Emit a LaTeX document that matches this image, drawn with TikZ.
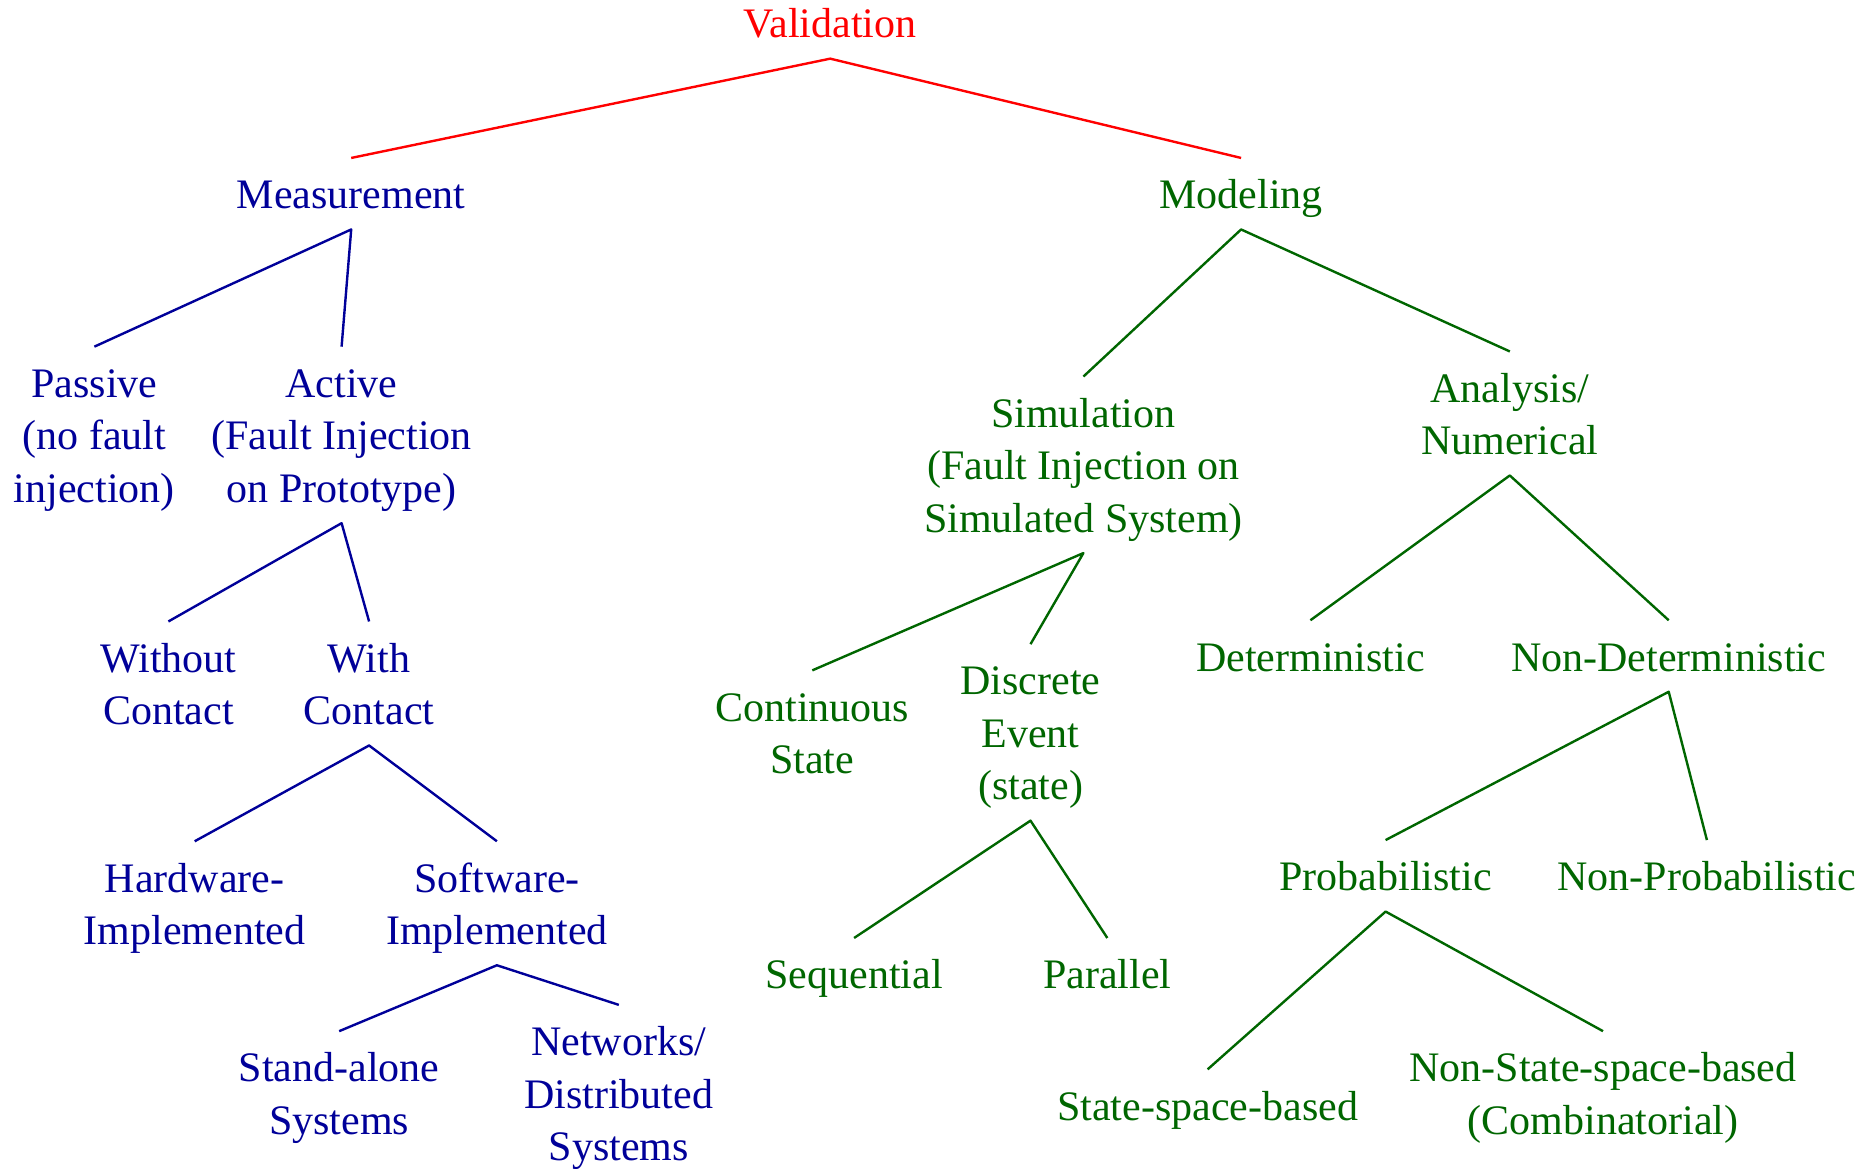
\documentclass[tikz,border=0pt]{standalone}
\usepackage{fontspec}
\setmainfont{Liberation Serif}
\definecolor{valred}{RGB}{255,0,0}
\definecolor{measblue}{RGB}{0,0,153}
\definecolor{modgreen}{RGB}{0,102,0}
\begin{document}
\begin{tikzpicture}[x=1pt,y=-1pt,
  lbl/.style={anchor=north, yshift=22.75pt, inner sep=0pt, outer sep=0pt, align=center,
    font=\fontsize{42}{52.5}\selectfont,
    execute at begin node=\strut, execute at end node=\strut},
  redtxt/.style={lbl, text=valred},
  bluetxt/.style={lbl, text=measblue},
  greentxt/.style={lbl, text=modgreen},
  redline/.style={draw=valred, line width=2.4pt, line join=round},
  blueline/.style={draw=measblue, line width=2.4pt, line join=round},
  greenline/.style={draw=modgreen, line width=2.4pt, line join=round},
  up/.style={yshift=14pt},
  down/.style={yshift=-5pt}]
\useasboundingbox (0,0) rectangle (1873,1168);

% root
\node[redtxt] (val) at (830.2,23.9) {Validation};

% measurement branch
\node[bluetxt] (meas) at (351.2,194.7) {Measurement};
\node[bluetxt] (passive) at (94.4,383.4) {\strut Passive\\(no fault\\injection)\strut};
\node[bluetxt] (active) at (341.6,383.4) {\strut Active\\(Fault Injection\\on Prototype)\strut};
\node[bluetxt] (without) at (168.4,658.2) {\strut Without\\Contact\strut};
\node[bluetxt] (with) at (369.1,658.2) {\strut With\\Contact\strut};
\node[bluetxt] (hw) at (194.7,878.0) {\strut Hardware-\\Implemented\strut};
\node[bluetxt] (sw) at (496.9,878.0) {\strut Software-\\Implemented\strut};
\node[bluetxt] (standalone) at (339.2,1067.9) {\strut Stand-alone\\Systems\strut};
\node[bluetxt] (networks) at (618.8,1041.6) {\strut Networks/\\Distributed\\Systems\strut};

% modeling branch
\node[greentxt] (model) at (1241.1,194.7) {Modeling};
\node[greentxt] (sim) at (1083.4,413.3) {\strut Simulation\\(Fault Injection on\\Simulated System)\strut};
\node[greentxt] (analysis) at (1509.8,388.2) {\strut Analysis/\\Numerical\strut};
\node[greentxt] (cont) at (812.3,707.1) {\strut Continuous\\State\strut};
\node[greentxt] (disc) at (1030.5,680.9) {\strut Discrete\\Event\\(state)\strut};
\node[greentxt] (seq) at (854.1,974.7) {Sequential};
\node[greentxt] (par) at (1107.3,974.7) {Parallel};
\node[greentxt] (det) at (1310.4,657.0) {Deterministic};
\node[greentxt] (nondet) at (1668.7,657.0) {Non-Deterministic};
\node[greentxt] (prob) at (1385.6,876.8) {Probabilistic};
\node[greentxt] (nonprob) at (1706.9,876.8) {Non-Probabilistic};
\node[greentxt] (ssb) at (1207.6,1106.1) {State-space-based};
\node[greentxt] (nssb) at (1603.0,1067.9) {\strut Non-State-space-based\\(Combinatorial)\strut};

% connectors
\draw[redline] ([up]meas.north) -- ([down]val.south) -- ([up]model.north);

\draw[blueline] ([up]passive.north) -- ([down]meas.south) -- ([up]active.north);
\draw[blueline] ([up]without.north) -- ([down]active.south) -- ([up]with.north);
\draw[blueline] ([up]hw.north) -- ([down]with.south) -- ([up]sw.north);
\draw[blueline] ([up]standalone.north) -- ([down]sw.south) -- ([up]networks.north);

\draw[greenline] ([up]sim.north) -- ([down]model.south) -- ([up]analysis.north);
\draw[greenline] ([up]cont.north) -- ([down]sim.south) -- ([up]disc.north);
\draw[greenline] ([up]seq.north) -- ([down]disc.south) -- ([up]par.north);
\draw[greenline] ([up]det.north) -- ([down]analysis.south) -- ([up]nondet.north);
\draw[greenline] ([up]prob.north) -- ([down]nondet.south) -- ([up]nonprob.north);
\draw[greenline] ([up]ssb.north) -- ([down]prob.south) -- ([up]nssb.north);
\end{tikzpicture}
\end{document}
